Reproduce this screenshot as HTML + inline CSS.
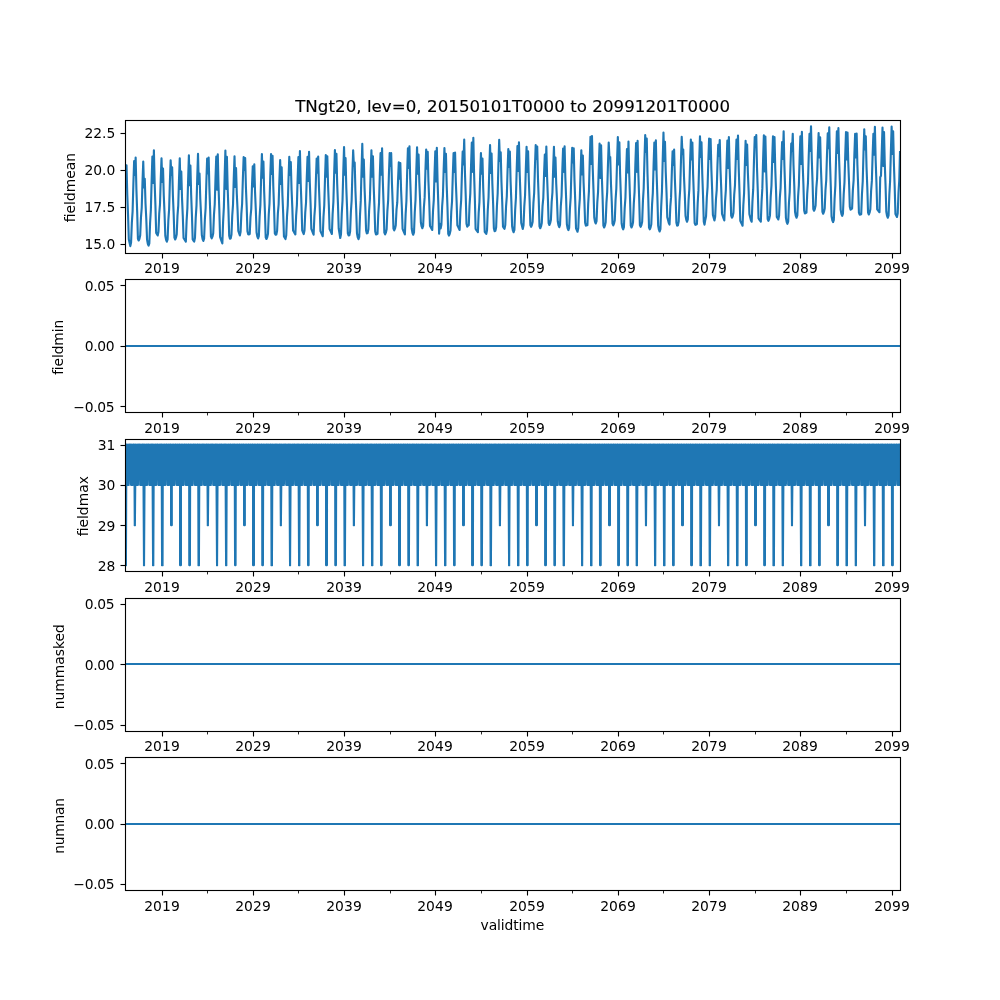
<!DOCTYPE html>
<html lang="en"><head><meta charset="utf-8"><title>TNgt20 statistics</title>
<style>html,body{margin:0;padding:0;background:#fff;width:1000px;height:1000px;overflow:hidden}svg{display:block}</style>
</head><body>
<svg width="1000" height="1000" viewBox="0 0 1000 1000">
<rect width="1000" height="1000" fill="#ffffff"/>
<defs>
<clipPath id="c0"><rect x="125.0" y="120.000" width="775.0" height="132.759"/></clipPath>
<clipPath id="c1"><rect x="125.0" y="279.310" width="775.0" height="132.759"/></clipPath>
<clipPath id="c2"><rect x="125.0" y="438.621" width="775.0" height="132.759"/></clipPath>
<clipPath id="c3"><rect x="125.0" y="597.931" width="775.0" height="132.759"/></clipPath>
<clipPath id="c4"><rect x="125.0" y="757.241" width="775.0" height="132.759"/></clipPath>
<clipPath id="c2b"><rect x="125.0" y="439" width="775.0" height="47"/></clipPath>
</defs>
<g clip-path="url(#c0)"><g clip-path="url(#c0)"><polyline points="125.00,164.58 125.76,182.34 126.52,165.32 127.28,194.89 128.04,214.65 128.80,239.32 129.56,242.72 130.32,246.13 131.08,242.43 131.84,222.94 132.61,211.37 133.37,183.96 134.13,161.03 134.89,174.94 135.65,157.47 136.41,189.56 137.17,211.64 137.93,238.73 138.69,240.50 139.45,238.73 140.21,235.32 140.97,217.40 141.73,207.73 142.49,182.38 143.25,161.62 144.01,187.52 144.77,178.79 145.53,203.81 146.30,219.34 147.06,239.62 147.82,243.76 148.58,245.54 149.34,243.32 150.10,222.74 150.86,209.86 151.62,181.02 152.38,156.59 153.14,182.93 153.90,150.22 154.66,182.92 155.42,205.38 156.18,232.96 156.94,234.21 157.70,235.47 158.46,231.77 159.22,213.90 159.99,204.32 160.75,179.04 161.51,158.36 162.27,182.04 163.03,168.57 163.79,195.86 164.55,213.37 165.31,235.77 166.07,239.91 166.83,241.69 167.59,239.47 168.35,220.43 169.11,209.41 169.87,182.59 170.63,160.29 171.39,174.94 172.15,167.39 172.91,195.72 173.68,214.26 174.44,237.69 175.20,239.47 175.96,237.69 176.72,234.29 177.48,215.91 178.24,205.70 179.00,179.75 179.76,158.36 180.52,189.00 181.28,171.53 182.04,198.53 182.80,215.84 183.56,237.99 184.32,239.22 185.08,240.45 185.84,241.69 186.60,221.18 187.37,208.36 188.13,179.60 188.89,155.25 189.65,185.30 190.41,165.47 191.17,195.04 191.93,214.80 192.69,239.47 193.45,240.50 194.21,241.54 194.97,237.84 195.73,217.81 196.49,205.58 197.25,177.45 198.01,153.77 198.77,183.97 199.53,173.61 200.29,198.91 201.05,214.55 201.82,235.03 202.58,239.17 203.34,240.95 204.10,238.73 204.86,219.48 205.62,208.20 206.38,181.11 207.14,158.51 207.90,173.46 208.66,157.47 209.42,188.88 210.18,210.26 210.94,236.66 211.70,238.43 212.46,236.66 213.22,233.25 213.98,214.69 214.74,204.26 215.51,178.07 216.27,156.44 217.03,189.74 217.79,154.22 218.55,186.85 219.31,209.37 220.07,236.95 220.83,239.12 221.59,241.29 222.35,243.46 223.11,221.63 223.87,207.20 224.63,176.70 225.39,150.52 226.15,188.85 226.91,156.88 227.67,188.20 228.43,209.47 229.20,235.77 229.96,238.73 230.72,238.28 231.48,234.58 232.24,215.73 233.00,204.93 233.76,178.34 234.52,156.29 235.28,186.93 236.04,167.98 236.80,193.92 237.56,210.02 238.32,231.03 239.08,233.25 239.84,235.47 240.60,231.77 241.36,213.63 242.12,203.72 242.89,178.08 243.65,157.03 244.41,169.91 245.17,158.07 245.93,187.48 246.69,206.81 247.45,231.18 248.21,234.14 248.97,234.44 249.73,233.84 250.49,217.15 251.25,208.99 252.01,185.26 252.77,166.21 253.53,186.48 254.29,164.28 255.05,191.98 255.81,209.77 256.58,232.51 257.34,236.66 258.10,238.43 258.86,236.21 259.62,216.57 260.38,204.82 261.14,177.21 261.90,154.07 262.66,177.75 263.42,161.62 264.18,191.79 264.94,212.04 265.70,237.25 266.46,239.02 267.22,237.25 267.98,233.84 268.74,214.68 269.50,203.52 270.26,176.54 271.03,154.07 271.79,173.90 272.55,155.85 273.31,186.80 274.07,207.65 274.83,233.55 275.59,234.73 276.35,234.44 277.11,230.74 277.87,213.41 278.63,204.48 279.39,179.92 280.15,159.99 280.91,183.82 281.67,167.39 282.43,195.33 283.19,213.47 283.95,236.51 284.72,237.77 285.48,239.02 286.24,235.32 287.00,216.44 287.76,205.60 288.52,178.98 289.28,156.88 290.04,174.94 290.80,162.06 291.56,189.85 292.32,207.65 293.08,230.44 293.84,231.77 294.60,233.10 295.36,234.44 296.12,215.76 296.88,205.18 297.64,178.83 298.41,157.03 299.17,182.93 299.93,151.11 300.69,182.68 301.45,204.00 302.21,230.44 302.97,232.29 303.73,234.14 304.49,230.44 305.25,212.54 306.01,202.92 306.77,177.60 307.53,156.88 308.29,181.01 309.05,151.85 309.81,182.68 310.57,203.26 311.33,228.96 312.10,230.88 312.86,232.81 313.62,234.73 314.38,216.29 315.14,206.01 315.90,179.98 316.66,158.51 317.42,172.72 318.18,156.59 318.94,186.51 319.70,206.32 320.46,231.18 321.22,232.86 321.98,234.53 322.74,236.21 323.50,216.78 324.26,205.29 325.02,177.95 325.79,155.11 326.55,176.71 327.31,156.29 328.07,185.59 328.83,204.74 329.59,228.96 330.35,230.64 331.11,232.31 331.87,233.99 332.63,213.99 333.39,201.80 334.15,173.71 334.91,150.07 335.67,172.72 336.43,153.77 337.19,183.79 337.95,203.60 338.71,228.52 339.47,233.25 340.24,237.99 341.00,234.29 341.76,213.60 342.52,200.56 343.28,171.56 344.04,146.97 344.80,174.79 345.56,158.07 346.32,188.20 347.08,208.29 347.84,233.40 348.60,235.47 349.36,235.18 350.12,231.48 350.88,212.02 351.64,200.48 352.40,173.11 353.16,150.22 353.93,165.91 354.69,162.51 355.45,191.06 356.21,209.67 356.97,233.25 357.73,237.40 358.49,239.17 359.25,236.95 360.01,215.09 360.77,200.63 361.53,170.08 362.29,143.86 363.05,176.71 363.81,159.55 364.57,188.20 365.33,206.81 366.09,230.44 366.85,233.40 367.62,232.96 368.38,229.26 369.14,210.25 369.90,199.27 370.66,172.48 371.42,150.22 372.18,176.71 372.94,156.29 373.70,186.41 374.46,206.41 375.22,231.48 375.98,234.44 376.74,234.14 377.50,233.84 378.26,214.50 379.02,203.12 379.78,175.90 380.54,153.18 381.31,174.79 382.07,148.30 382.83,181.57 383.59,204.54 384.35,232.66 385.11,234.44 385.87,232.66 386.63,229.26 387.39,210.82 388.15,200.53 388.91,174.50 389.67,153.03 390.43,165.91 391.19,153.18 391.95,183.46 392.71,203.50 393.47,228.66 394.23,230.44 395.00,228.66 395.76,225.26 396.52,209.50 397.28,202.47 398.04,179.97 398.80,162.21 399.56,178.79 400.32,163.10 401.08,190.05 401.84,207.01 402.60,228.96 403.36,230.79 404.12,232.61 404.88,234.44 405.64,213.98 406.40,201.24 407.16,172.56 407.92,148.30 408.68,167.98 409.45,146.23 410.21,178.95 410.97,201.28 411.73,228.81 412.49,232.96 413.25,234.73 414.01,232.51 414.77,212.24 415.53,199.72 416.29,171.27 417.05,147.26 417.81,173.75 418.57,154.51 419.33,182.24 420.09,199.70 420.85,222.30 421.61,226.44 422.37,228.22 423.14,226.00 423.90,207.50 424.66,197.14 425.42,171.04 426.18,149.48 426.94,168.72 427.70,151.85 428.46,181.71 429.22,201.28 429.98,226.00 430.74,227.33 431.50,228.66 432.26,230.00 433.02,211.05 433.78,200.14 434.54,173.44 435.30,151.26 436.06,181.45 436.83,147.85 437.59,181.61 438.35,205.08 439.11,233.70 439.87,223.78 440.63,228.52 441.39,224.82 442.15,206.26 442.91,195.83 443.67,169.64 444.43,148.00 445.19,171.98 445.95,153.77 446.71,185.54 447.47,207.15 448.23,233.84 448.99,235.62 449.75,233.84 450.52,230.44 451.28,211.79 452.04,201.25 452.80,174.94 453.56,153.18 454.32,171.83 455.08,152.59 455.84,181.95 456.60,201.04 457.36,225.26 458.12,226.84 458.88,228.42 459.64,230.00 460.40,211.11 461.16,200.27 461.92,173.65 462.68,151.55 463.44,164.43 464.21,139.57 464.97,172.94 465.73,195.71 466.49,223.78 467.25,226.74 468.01,225.56 468.77,225.26 469.53,205.50 470.29,193.60 471.05,165.83 471.81,142.53 472.57,171.83 473.33,137.79 474.09,173.47 474.85,198.57 475.61,228.96 476.37,230.05 477.13,231.13 477.89,232.22 478.66,213.18 479.42,202.16 480.18,175.34 480.94,153.03 481.70,173.75 482.46,158.51 483.22,188.01 483.98,207.45 484.74,231.92 485.50,232.96 486.26,233.99 487.02,230.29 487.78,210.02 488.54,197.50 489.30,169.05 490.06,145.04 490.82,173.01 491.58,153.48 492.35,183.50 493.11,203.31 493.87,228.22 494.63,231.18 495.39,230.88 496.15,227.18 496.91,206.49 497.67,193.46 498.43,164.46 499.19,139.86 499.95,161.03 500.71,152.29 501.47,182.24 502.23,201.92 502.99,226.74 503.75,227.78 504.51,228.81 505.27,225.11 506.04,206.70 506.80,196.46 507.56,170.47 508.32,149.04 509.08,166.95 509.84,151.55 510.60,181.61 511.36,201.38 512.12,226.30 512.88,230.44 513.64,232.22 514.40,230.00 515.16,210.00 515.92,197.80 516.68,169.72 517.44,146.08 518.20,170.94 518.96,142.23 519.73,174.44 520.49,196.10 521.25,223.04 522.01,226.00 522.77,228.96 523.53,225.26 524.29,206.37 525.05,195.54 525.81,168.91 526.57,146.82 527.33,171.98 528.09,151.26 528.85,181.03 529.61,200.49 530.37,225.11 531.13,226.89 531.89,225.11 532.65,221.71 533.42,203.18 534.18,192.78 534.94,166.64 535.70,145.04 536.46,158.95 537.22,146.52 537.98,178.37 538.74,199.80 539.50,226.44 540.26,228.22 541.02,226.44 541.78,223.04 542.54,206.16 543.30,197.78 544.06,173.82 544.82,154.51 545.58,175.97 546.34,146.52 547.11,177.30 547.87,197.63 548.63,223.19 549.39,224.96 550.15,223.19 550.91,219.78 551.67,202.01 552.43,192.53 553.19,167.37 553.95,146.82 554.71,176.71 555.47,157.47 556.23,183.84 556.99,200.00 557.75,221.26 558.51,225.41 559.27,227.18 560.03,224.96 560.79,206.50 561.56,196.17 562.32,170.11 563.08,148.59 563.84,171.83 564.60,146.23 565.36,177.45 566.12,198.22 566.88,224.22 567.64,228.37 568.40,230.14 569.16,227.92 569.92,208.70 570.68,197.47 571.44,170.41 572.20,147.85 572.96,162.51 573.72,148.30 574.48,180.11 575.25,201.58 576.01,228.22 576.77,230.00 577.53,231.77 578.29,228.07 579.05,209.30 579.81,198.61 580.57,172.15 581.33,150.22 582.09,174.49 582.85,155.55 583.61,183.07 584.37,200.35 585.13,222.74 585.89,225.70 586.65,225.26 587.41,225.26 588.17,204.36 588.94,191.07 589.70,161.79 590.46,136.90 591.22,163.99 591.98,136.01 592.74,168.58 593.50,190.38 594.26,217.56 595.02,221.71 595.78,223.48 596.54,221.26 597.30,202.53 598.06,191.87 598.82,165.45 599.58,143.56 600.34,177.90 601.10,145.19 601.86,177.25 602.63,198.87 603.39,225.70 604.15,227.48 604.91,225.70 605.67,222.30 606.43,203.14 607.19,191.98 607.95,165.00 608.71,142.53 609.47,157.92 610.23,157.03 610.99,184.33 611.75,201.43 612.51,223.63 613.27,225.41 614.03,223.63 614.79,220.23 615.55,200.38 616.32,188.37 617.08,160.48 617.84,137.05 618.60,164.43 619.36,142.23 620.12,174.59 620.88,196.40 621.64,223.48 622.40,227.63 623.16,229.40 623.92,227.18 624.68,208.36 625.44,197.59 626.20,171.05 626.96,149.04 627.72,172.42 628.48,141.49 629.24,174.83 630.00,197.63 630.77,225.70 631.53,227.48 632.29,225.70 633.05,222.30 633.81,203.23 634.57,192.18 635.33,165.32 636.09,142.97 636.85,171.83 637.61,140.90 638.37,174.25 639.13,197.04 639.89,225.11 640.65,226.89 641.41,225.11 642.17,221.71 642.93,201.14 643.69,188.25 644.46,159.41 645.22,134.98 645.98,152.00 646.74,138.53 647.50,173.52 648.26,197.93 649.02,227.63 649.78,229.40 650.54,227.63 651.30,224.22 652.06,204.67 652.82,193.03 653.58,165.54 654.34,142.53 655.10,169.46 655.86,140.31 656.62,174.01 657.38,197.14 658.15,225.56 658.91,229.70 659.67,231.48 660.43,229.26 661.19,206.67 661.95,191.33 662.71,159.83 663.47,132.61 664.23,161.03 664.99,141.79 665.75,172.21 666.51,192.01 667.27,217.12 668.03,220.08 668.79,223.04 669.55,224.52 670.31,206.68 671.07,197.13 671.84,171.89 672.60,151.26 673.36,165.02 674.12,149.48 674.88,179.09 675.64,198.32 676.40,222.74 677.16,225.70 677.92,225.26 678.68,221.56 679.44,201.41 680.20,189.03 680.96,160.75 681.72,136.90 682.48,153.92 683.24,149.48 684.00,176.82 684.76,193.69 685.53,215.79 686.29,219.93 687.05,221.71 687.81,219.49 688.57,200.30 689.33,189.10 690.09,162.08 690.85,139.57 691.61,159.40 692.37,142.53 693.13,174.64 693.89,196.20 694.65,223.04 695.41,224.82 696.17,224.52 696.93,224.08 697.69,203.29 698.45,190.15 699.21,161.03 699.98,136.31 700.74,156.88 701.50,142.23 702.26,174.01 703.02,195.22 703.78,221.71 704.54,224.67 705.30,219.93 706.06,216.23 706.82,197.49 707.58,186.84 708.34,160.42 709.10,138.53 709.86,158.95 710.62,138.97 711.38,169.64 712.14,189.59 712.90,214.90 713.67,217.71 714.43,220.52 715.19,216.82 715.95,199.26 716.71,190.03 717.47,165.15 718.23,144.89 718.99,155.99 719.75,140.01 720.51,170.03 721.27,189.34 722.03,214.01 722.79,216.18 723.55,218.35 724.31,220.52 725.07,201.33 725.83,190.13 726.59,163.11 727.36,140.60 728.12,167.98 728.88,137.05 729.64,168.63 730.40,189.44 731.16,215.64 731.92,217.71 732.68,216.38 733.44,212.68 734.20,194.87 734.96,185.36 735.72,160.16 736.48,139.57 737.24,158.95 738.00,135.57 738.76,169.35 739.52,192.40 740.28,220.82 741.05,222.45 741.81,224.08 742.57,225.70 743.33,205.52 744.09,193.11 744.85,164.79 745.61,140.90 746.37,165.02 747.13,144.60 747.89,173.13 748.65,191.07 749.41,214.31 750.17,217.27 750.93,220.23 751.69,221.71 752.45,201.56 753.21,189.18 753.97,160.90 754.74,137.05 755.50,146.97 756.26,134.98 757.02,168.19 757.78,190.63 758.54,218.45 759.30,219.54 760.06,220.62 760.82,221.71 761.58,201.20 762.34,188.38 763.10,159.62 763.86,135.27 764.62,171.53 765.38,136.61 766.14,169.45 766.90,191.56 767.66,219.04 768.42,220.82 769.19,219.04 769.95,215.64 770.71,196.57 771.47,185.52 772.23,158.66 772.99,136.31 773.75,161.91 774.51,137.05 775.27,169.06 776.03,190.33 776.79,216.97 777.55,218.23 778.31,219.49 779.07,215.79 779.83,197.86 780.59,188.20 781.35,162.84 782.11,142.08 782.88,158.95 783.64,131.28 784.40,165.57 785.16,189.00 785.92,217.86 786.68,222.00 787.44,223.78 788.20,221.56 788.96,202.76 789.72,192.04 790.48,165.53 791.24,143.56 792.00,150.96 792.76,133.79 793.52,165.23 794.28,185.79 795.04,211.79 795.80,215.94 796.57,217.71 797.33,215.49 798.09,196.45 798.85,185.43 799.61,158.61 800.37,136.31 801.13,163.84 801.89,131.87 802.65,163.54 803.41,184.26 804.17,210.46 804.93,213.42 805.69,213.12 806.45,212.68 807.21,193.70 807.97,182.76 808.73,156.01 809.49,133.79 810.26,150.96 811.02,126.25 811.78,159.37 812.54,181.40 813.30,208.98 814.06,210.76 814.82,208.98 815.58,205.58 816.34,187.89 817.10,178.52 817.86,153.48 818.62,133.05 819.38,157.47 820.14,137.20 820.90,167.51 821.66,187.03 822.42,211.94 823.18,213.72 823.95,211.94 824.71,208.54 825.47,190.28 826.23,180.21 826.99,154.42 827.75,133.20 828.51,148.15 829.27,127.28 830.03,162.42 830.79,186.58 831.55,216.23 832.31,220.38 833.07,222.15 833.83,219.93 834.59,198.97 835.35,185.61 836.11,156.25 836.87,131.28 837.63,153.03 838.40,128.17 839.16,160.92 839.92,182.63 840.68,209.87 841.44,214.01 842.20,215.79 842.96,213.57 843.72,194.05 844.48,182.44 845.24,154.99 846.00,132.02 846.76,159.40 847.52,132.61 848.28,162.81 849.04,182.04 849.80,206.76 850.56,209.72 851.32,208.98 852.09,208.54 852.85,190.40 853.61,180.48 854.37,154.85 855.13,133.79 855.89,157.47 856.65,133.50 857.41,165.33 858.17,186.29 858.93,212.68 859.69,214.75 860.45,214.46 861.21,214.16 861.97,193.95 862.73,181.50 863.49,153.14 864.25,129.21 865.01,149.48 865.78,136.31 866.54,167.17 867.30,187.22 868.06,212.68 868.82,214.46 869.58,212.68 870.34,209.28 871.10,190.99 871.86,180.89 872.62,155.06 873.38,133.79 874.14,154.81 874.90,126.84 875.66,159.90 876.42,181.89 877.18,209.42 877.94,210.36 878.70,211.30 879.47,212.24 880.23,177.16 880.99,175.68 881.75,151.42 882.51,127.58 883.27,165.91 884.03,132.02 884.79,164.07 885.55,185.20 886.31,211.79 887.07,215.94 887.83,217.71 888.59,215.49 889.35,194.47 890.11,181.03 890.87,151.60 891.63,126.54 892.39,153.92 893.16,131.28 893.92,164.31 894.68,186.43 895.44,214.01 896.20,215.49 896.96,216.97 897.72,213.27 898.48,192.99 899.24,180.46 900.00,152.00" fill="none" stroke="#1f77b4" stroke-width="2.12" stroke-linejoin="round" stroke-linecap="square"/></g></g>
<path d="M125.5 120.5V253.5M900.5 120.5V253.5M162.5 253.5v5M253.5 253.5v5M344.5 253.5v5M435.5 253.5v5M527.5 253.5v5M618.5 253.5v5M709.5 253.5v5M800.5 253.5v5M892.5 253.5v5" stroke="#000" stroke-width="1.111" fill="none"/>
<path d="M207.5 253.5v2.95M298.5 253.5v2.95M390.5 253.5v2.95M481.5 253.5v2.95M572.5 253.5v2.95M663.5 253.5v2.95M755.5 253.5v2.95M846.5 253.5v2.95" stroke="#000" stroke-width="0.85" fill="none"/>
<g fill="#000"><rect x="124.945" y="119.945" width="776.111" height="1.111"/><rect x="124.945" y="252.945" width="776.111" height="1.111"/><rect x="120.500" y="243.945" width="5" height="1.111"/><rect x="120.500" y="206.945" width="5" height="1.111"/><rect x="120.500" y="169.945" width="5" height="1.111"/><rect x="120.500" y="132.945" width="5" height="1.111"/></g>
<g font-family="'DejaVu Sans', 'Liberation Sans', sans-serif" font-size="13.889px" fill="#000">
<text x="162.00" y="272.50" text-anchor="middle" letter-spacing="0.08">2019</text>
<text x="253.00" y="272.50" text-anchor="middle" letter-spacing="0.08">2029</text>
<text x="344.00" y="272.50" text-anchor="middle" letter-spacing="0.08">2039</text>
<text x="435.00" y="272.50" text-anchor="middle" letter-spacing="0.08">2049</text>
<text x="527.00" y="272.50" text-anchor="middle" letter-spacing="0.08">2059</text>
<text x="618.00" y="272.50" text-anchor="middle" letter-spacing="0.08">2069</text>
<text x="709.00" y="272.50" text-anchor="middle" letter-spacing="0.08">2079</text>
<text x="800.00" y="272.50" text-anchor="middle" letter-spacing="0.08">2089</text>
<text x="892.00" y="272.50" text-anchor="middle" letter-spacing="0.08">2099</text>
<text x="115.30" y="248.80" text-anchor="end" letter-spacing="0">15.0</text>
<text x="115.30" y="211.80" text-anchor="end" letter-spacing="0">17.5</text>
<text x="115.30" y="174.80" text-anchor="end" letter-spacing="0">20.0</text>
<text x="115.30" y="137.80" text-anchor="end" letter-spacing="0">22.5</text>
<text transform="translate(74.5,187.58) rotate(-90)" text-anchor="middle" letter-spacing="0">fieldmean</text>
</g>
<rect x="125.0" y="345" width="775.0" height="2" fill="#1f77b4"/>
<path d="M125.5 279.5V412.5M900.5 279.5V412.5M162.5 412.5v5M253.5 412.5v5M344.5 412.5v5M435.5 412.5v5M527.5 412.5v5M618.5 412.5v5M709.5 412.5v5M800.5 412.5v5M892.5 412.5v5" stroke="#000" stroke-width="1.111" fill="none"/>
<path d="M207.5 412.5v2.95M298.5 412.5v2.95M390.5 412.5v2.95M481.5 412.5v2.95M572.5 412.5v2.95M663.5 412.5v2.95M755.5 412.5v2.95M846.5 412.5v2.95" stroke="#000" stroke-width="0.85" fill="none"/>
<g fill="#000"><rect x="124.945" y="278.945" width="776.111" height="1.111"/><rect x="124.945" y="411.945" width="776.111" height="1.111"/><rect x="120.500" y="405.945" width="5" height="1.111"/><rect x="120.500" y="345.945" width="5" height="1.111"/><rect x="120.500" y="284.945" width="5" height="1.111"/></g>
<g font-family="'DejaVu Sans', 'Liberation Sans', sans-serif" font-size="13.889px" fill="#000">
<text x="162.00" y="432.50" text-anchor="middle" letter-spacing="0.08">2019</text>
<text x="253.00" y="432.50" text-anchor="middle" letter-spacing="0.08">2029</text>
<text x="344.00" y="432.50" text-anchor="middle" letter-spacing="0.08">2039</text>
<text x="435.00" y="432.50" text-anchor="middle" letter-spacing="0.08">2049</text>
<text x="527.00" y="432.50" text-anchor="middle" letter-spacing="0.08">2059</text>
<text x="618.00" y="432.50" text-anchor="middle" letter-spacing="0.08">2069</text>
<text x="709.00" y="432.50" text-anchor="middle" letter-spacing="0.08">2079</text>
<text x="800.00" y="432.50" text-anchor="middle" letter-spacing="0.08">2089</text>
<text x="892.00" y="432.50" text-anchor="middle" letter-spacing="0.08">2099</text>
<text x="114.40" y="411.80" text-anchor="end" letter-spacing="-0.3">−0.05</text>
<text x="114.40" y="350.80" text-anchor="end" letter-spacing="-0.3">0.00</text>
<text x="114.40" y="290.80" text-anchor="end" letter-spacing="-0.3">0.05</text>
<text transform="translate(62.7,347.39) rotate(-90)" text-anchor="middle" letter-spacing="-0.14">fieldmin</text>
</g>
<g clip-path="url(#c2)"><g clip-path="url(#c2b)"><polyline points="125.00,444.66 125.76,565.34 126.52,444.66 127.28,484.89 128.04,444.66 128.80,484.89 129.56,444.66 130.32,444.66 131.08,484.89 131.84,444.66 132.61,484.89 133.37,444.66 134.13,444.66 134.89,525.11 135.65,444.66 136.41,484.89 137.17,444.66 137.93,484.89 138.69,444.66 139.45,444.66 140.21,484.89 140.97,444.66 141.73,484.89 142.49,444.66 143.25,444.66 144.01,565.34 144.77,444.66 145.53,484.89 146.30,444.66 147.06,484.89 147.82,444.66 148.58,444.66 149.34,484.89 150.10,444.66 150.86,484.89 151.62,444.66 152.38,444.66 153.14,565.34 153.90,444.66 154.66,484.89 155.42,444.66 156.18,484.89 156.94,444.66 157.70,444.66 158.46,484.89 159.22,444.66 159.99,484.89 160.75,444.66 161.51,444.66 162.27,565.34 163.03,444.66 163.79,484.89 164.55,444.66 165.31,484.89 166.07,444.66 166.83,444.66 167.59,484.89 168.35,444.66 169.11,484.89 169.87,444.66 170.63,444.66 171.39,525.11 172.15,444.66 172.91,484.89 173.68,444.66 174.44,484.89 175.20,444.66 175.96,444.66 176.72,484.89 177.48,444.66 178.24,484.89 179.00,444.66 179.76,444.66 180.52,565.34 181.28,444.66 182.04,484.89 182.80,444.66 183.56,484.89 184.32,444.66 185.08,444.66 185.84,484.89 186.60,444.66 187.37,484.89 188.13,444.66 188.89,444.66 189.65,565.34 190.41,444.66 191.17,484.89 191.93,444.66 192.69,484.89 193.45,444.66 194.21,444.66 194.97,484.89 195.73,444.66 196.49,484.89 197.25,444.66 198.01,444.66 198.77,565.34 199.53,444.66 200.29,484.89 201.05,444.66 201.82,484.89 202.58,444.66 203.34,444.66 204.10,484.89 204.86,444.66 205.62,484.89 206.38,444.66 207.14,444.66 207.90,525.11 208.66,444.66 209.42,484.89 210.18,444.66 210.94,484.89 211.70,444.66 212.46,444.66 213.22,484.89 213.98,444.66 214.74,484.89 215.51,444.66 216.27,444.66 217.03,565.34 217.79,444.66 218.55,484.89 219.31,444.66 220.07,484.89 220.83,444.66 221.59,444.66 222.35,484.89 223.11,444.66 223.87,484.89 224.63,444.66 225.39,444.66 226.15,565.34 226.91,444.66 227.67,484.89 228.43,444.66 229.20,484.89 229.96,444.66 230.72,444.66 231.48,484.89 232.24,444.66 233.00,484.89 233.76,444.66 234.52,444.66 235.28,565.34 236.04,444.66 236.80,484.89 237.56,444.66 238.32,484.89 239.08,444.66 239.84,444.66 240.60,484.89 241.36,444.66 242.12,484.89 242.89,444.66 243.65,444.66 244.41,525.11 245.17,444.66 245.93,484.89 246.69,444.66 247.45,484.89 248.21,444.66 248.97,444.66 249.73,484.89 250.49,444.66 251.25,484.89 252.01,444.66 252.77,444.66 253.53,565.34 254.29,444.66 255.05,484.89 255.81,444.66 256.58,484.89 257.34,444.66 258.10,444.66 258.86,484.89 259.62,444.66 260.38,484.89 261.14,444.66 261.90,444.66 262.66,565.34 263.42,444.66 264.18,484.89 264.94,444.66 265.70,484.89 266.46,444.66 267.22,444.66 267.98,484.89 268.74,444.66 269.50,484.89 270.26,444.66 271.03,444.66 271.79,565.34 272.55,444.66 273.31,484.89 274.07,444.66 274.83,484.89 275.59,444.66 276.35,444.66 277.11,484.89 277.87,444.66 278.63,484.89 279.39,444.66 280.15,444.66 280.91,525.11 281.67,444.66 282.43,484.89 283.19,444.66 283.95,484.89 284.72,444.66 285.48,444.66 286.24,484.89 287.00,444.66 287.76,484.89 288.52,444.66 289.28,444.66 290.04,565.34 290.80,444.66 291.56,484.89 292.32,444.66 293.08,484.89 293.84,444.66 294.60,444.66 295.36,484.89 296.12,444.66 296.88,484.89 297.64,444.66 298.41,444.66 299.17,565.34 299.93,444.66 300.69,484.89 301.45,444.66 302.21,484.89 302.97,444.66 303.73,444.66 304.49,484.89 305.25,444.66 306.01,484.89 306.77,444.66 307.53,444.66 308.29,565.34 309.05,444.66 309.81,484.89 310.57,444.66 311.33,484.89 312.10,444.66 312.86,444.66 313.62,484.89 314.38,444.66 315.14,484.89 315.90,444.66 316.66,444.66 317.42,525.11 318.18,444.66 318.94,484.89 319.70,444.66 320.46,484.89 321.22,444.66 321.98,444.66 322.74,484.89 323.50,444.66 324.26,484.89 325.02,444.66 325.79,444.66 326.55,565.34 327.31,444.66 328.07,484.89 328.83,444.66 329.59,484.89 330.35,444.66 331.11,444.66 331.87,484.89 332.63,444.66 333.39,484.89 334.15,444.66 334.91,444.66 335.67,565.34 336.43,444.66 337.19,484.89 337.95,444.66 338.71,484.89 339.47,444.66 340.24,444.66 341.00,484.89 341.76,444.66 342.52,484.89 343.28,444.66 344.04,444.66 344.80,565.34 345.56,444.66 346.32,484.89 347.08,444.66 347.84,484.89 348.60,444.66 349.36,444.66 350.12,484.89 350.88,444.66 351.64,484.89 352.40,444.66 353.16,444.66 353.93,525.11 354.69,444.66 355.45,484.89 356.21,444.66 356.97,484.89 357.73,444.66 358.49,444.66 359.25,484.89 360.01,444.66 360.77,484.89 361.53,444.66 362.29,444.66 363.05,565.34 363.81,444.66 364.57,484.89 365.33,444.66 366.09,484.89 366.85,444.66 367.62,444.66 368.38,484.89 369.14,444.66 369.90,484.89 370.66,444.66 371.42,444.66 372.18,565.34 372.94,444.66 373.70,484.89 374.46,444.66 375.22,484.89 375.98,444.66 376.74,444.66 377.50,484.89 378.26,444.66 379.02,484.89 379.78,444.66 380.54,444.66 381.31,565.34 382.07,444.66 382.83,484.89 383.59,444.66 384.35,484.89 385.11,444.66 385.87,444.66 386.63,484.89 387.39,444.66 388.15,484.89 388.91,444.66 389.67,444.66 390.43,525.11 391.19,444.66 391.95,484.89 392.71,444.66 393.47,484.89 394.23,444.66 395.00,444.66 395.76,484.89 396.52,444.66 397.28,484.89 398.04,444.66 398.80,444.66 399.56,565.34 400.32,444.66 401.08,484.89 401.84,444.66 402.60,484.89 403.36,444.66 404.12,444.66 404.88,484.89 405.64,444.66 406.40,484.89 407.16,444.66 407.92,444.66 408.68,565.34 409.45,444.66 410.21,484.89 410.97,444.66 411.73,484.89 412.49,444.66 413.25,444.66 414.01,484.89 414.77,444.66 415.53,484.89 416.29,444.66 417.05,444.66 417.81,565.34 418.57,444.66 419.33,484.89 420.09,444.66 420.85,484.89 421.61,444.66 422.37,444.66 423.14,484.89 423.90,444.66 424.66,484.89 425.42,444.66 426.18,444.66 426.94,525.11 427.70,444.66 428.46,484.89 429.22,444.66 429.98,484.89 430.74,444.66 431.50,444.66 432.26,484.89 433.02,444.66 433.78,484.89 434.54,444.66 435.30,444.66 436.06,565.34 436.83,444.66 437.59,484.89 438.35,444.66 439.11,484.89 439.87,444.66 440.63,444.66 441.39,484.89 442.15,444.66 442.91,484.89 443.67,444.66 444.43,444.66 445.19,565.34 445.95,444.66 446.71,484.89 447.47,444.66 448.23,484.89 448.99,444.66 449.75,444.66 450.52,484.89 451.28,444.66 452.04,484.89 452.80,444.66 453.56,444.66 454.32,565.34 455.08,444.66 455.84,484.89 456.60,444.66 457.36,484.89 458.12,444.66 458.88,444.66 459.64,484.89 460.40,444.66 461.16,484.89 461.92,444.66 462.68,444.66 463.44,525.11 464.21,444.66 464.97,484.89 465.73,444.66 466.49,484.89 467.25,444.66 468.01,444.66 468.77,484.89 469.53,444.66 470.29,484.89 471.05,444.66 471.81,444.66 472.57,565.34 473.33,444.66 474.09,484.89 474.85,444.66 475.61,484.89 476.37,444.66 477.13,444.66 477.89,484.89 478.66,444.66 479.42,484.89 480.18,444.66 480.94,444.66 481.70,565.34 482.46,444.66 483.22,484.89 483.98,444.66 484.74,484.89 485.50,444.66 486.26,444.66 487.02,484.89 487.78,444.66 488.54,484.89 489.30,444.66 490.06,444.66 490.82,565.34 491.58,444.66 492.35,484.89 493.11,444.66 493.87,484.89 494.63,444.66 495.39,444.66 496.15,484.89 496.91,444.66 497.67,484.89 498.43,444.66 499.19,444.66 499.95,525.11 500.71,444.66 501.47,484.89 502.23,444.66 502.99,484.89 503.75,444.66 504.51,444.66 505.27,484.89 506.04,444.66 506.80,484.89 507.56,444.66 508.32,444.66 509.08,565.34 509.84,444.66 510.60,484.89 511.36,444.66 512.12,484.89 512.88,444.66 513.64,444.66 514.40,484.89 515.16,444.66 515.92,484.89 516.68,444.66 517.44,444.66 518.20,565.34 518.96,444.66 519.73,484.89 520.49,444.66 521.25,484.89 522.01,444.66 522.77,444.66 523.53,484.89 524.29,444.66 525.05,484.89 525.81,444.66 526.57,444.66 527.33,565.34 528.09,444.66 528.85,484.89 529.61,444.66 530.37,484.89 531.13,444.66 531.89,444.66 532.65,484.89 533.42,444.66 534.18,484.89 534.94,444.66 535.70,444.66 536.46,525.11 537.22,444.66 537.98,484.89 538.74,444.66 539.50,484.89 540.26,444.66 541.02,444.66 541.78,484.89 542.54,444.66 543.30,484.89 544.06,444.66 544.82,444.66 545.58,565.34 546.34,444.66 547.11,484.89 547.87,444.66 548.63,484.89 549.39,444.66 550.15,444.66 550.91,484.89 551.67,444.66 552.43,484.89 553.19,444.66 553.95,444.66 554.71,565.34 555.47,444.66 556.23,484.89 556.99,444.66 557.75,484.89 558.51,444.66 559.27,444.66 560.03,484.89 560.79,444.66 561.56,484.89 562.32,444.66 563.08,444.66 563.84,565.34 564.60,444.66 565.36,484.89 566.12,444.66 566.88,484.89 567.64,444.66 568.40,444.66 569.16,484.89 569.92,444.66 570.68,484.89 571.44,444.66 572.20,444.66 572.96,525.11 573.72,444.66 574.48,484.89 575.25,444.66 576.01,484.89 576.77,444.66 577.53,444.66 578.29,484.89 579.05,444.66 579.81,484.89 580.57,444.66 581.33,444.66 582.09,565.34 582.85,444.66 583.61,484.89 584.37,444.66 585.13,484.89 585.89,444.66 586.65,444.66 587.41,484.89 588.17,444.66 588.94,484.89 589.70,444.66 590.46,444.66 591.22,565.34 591.98,444.66 592.74,484.89 593.50,444.66 594.26,484.89 595.02,444.66 595.78,444.66 596.54,484.89 597.30,444.66 598.06,484.89 598.82,444.66 599.58,444.66 600.34,565.34 601.10,444.66 601.86,484.89 602.63,444.66 603.39,484.89 604.15,444.66 604.91,444.66 605.67,484.89 606.43,444.66 607.19,484.89 607.95,444.66 608.71,444.66 609.47,525.11 610.23,444.66 610.99,484.89 611.75,444.66 612.51,484.89 613.27,444.66 614.03,444.66 614.79,484.89 615.55,444.66 616.32,484.89 617.08,444.66 617.84,444.66 618.60,565.34 619.36,444.66 620.12,484.89 620.88,444.66 621.64,484.89 622.40,444.66 623.16,444.66 623.92,484.89 624.68,444.66 625.44,484.89 626.20,444.66 626.96,444.66 627.72,565.34 628.48,444.66 629.24,484.89 630.00,444.66 630.77,484.89 631.53,444.66 632.29,444.66 633.05,484.89 633.81,444.66 634.57,484.89 635.33,444.66 636.09,444.66 636.85,565.34 637.61,444.66 638.37,484.89 639.13,444.66 639.89,484.89 640.65,444.66 641.41,444.66 642.17,484.89 642.93,444.66 643.69,484.89 644.46,444.66 645.22,444.66 645.98,525.11 646.74,444.66 647.50,484.89 648.26,444.66 649.02,484.89 649.78,444.66 650.54,444.66 651.30,484.89 652.06,444.66 652.82,484.89 653.58,444.66 654.34,444.66 655.10,565.34 655.86,444.66 656.62,484.89 657.38,444.66 658.15,484.89 658.91,444.66 659.67,444.66 660.43,484.89 661.19,444.66 661.95,484.89 662.71,444.66 663.47,444.66 664.23,565.34 664.99,444.66 665.75,484.89 666.51,444.66 667.27,484.89 668.03,444.66 668.79,444.66 669.55,484.89 670.31,444.66 671.07,484.89 671.84,444.66 672.60,444.66 673.36,565.34 674.12,444.66 674.88,484.89 675.64,444.66 676.40,484.89 677.16,444.66 677.92,444.66 678.68,484.89 679.44,444.66 680.20,484.89 680.96,444.66 681.72,444.66 682.48,525.11 683.24,444.66 684.00,484.89 684.76,444.66 685.53,484.89 686.29,444.66 687.05,444.66 687.81,484.89 688.57,444.66 689.33,484.89 690.09,444.66 690.85,444.66 691.61,565.34 692.37,444.66 693.13,484.89 693.89,444.66 694.65,484.89 695.41,444.66 696.17,444.66 696.93,484.89 697.69,444.66 698.45,484.89 699.21,444.66 699.98,444.66 700.74,565.34 701.50,444.66 702.26,484.89 703.02,444.66 703.78,484.89 704.54,444.66 705.30,444.66 706.06,484.89 706.82,444.66 707.58,484.89 708.34,444.66 709.10,444.66 709.86,565.34 710.62,444.66 711.38,484.89 712.14,444.66 712.90,484.89 713.67,444.66 714.43,444.66 715.19,484.89 715.95,444.66 716.71,484.89 717.47,444.66 718.23,444.66 718.99,525.11 719.75,444.66 720.51,484.89 721.27,444.66 722.03,484.89 722.79,444.66 723.55,444.66 724.31,484.89 725.07,444.66 725.83,484.89 726.59,444.66 727.36,444.66 728.12,565.34 728.88,444.66 729.64,484.89 730.40,444.66 731.16,484.89 731.92,444.66 732.68,444.66 733.44,484.89 734.20,444.66 734.96,484.89 735.72,444.66 736.48,444.66 737.24,565.34 738.00,444.66 738.76,484.89 739.52,444.66 740.28,484.89 741.05,444.66 741.81,444.66 742.57,484.89 743.33,444.66 744.09,484.89 744.85,444.66 745.61,444.66 746.37,565.34 747.13,444.66 747.89,484.89 748.65,444.66 749.41,484.89 750.17,444.66 750.93,444.66 751.69,484.89 752.45,444.66 753.21,484.89 753.97,444.66 754.74,444.66 755.50,525.11 756.26,444.66 757.02,484.89 757.78,444.66 758.54,484.89 759.30,444.66 760.06,444.66 760.82,484.89 761.58,444.66 762.34,484.89 763.10,444.66 763.86,444.66 764.62,565.34 765.38,444.66 766.14,484.89 766.90,444.66 767.66,484.89 768.42,444.66 769.19,444.66 769.95,484.89 770.71,444.66 771.47,484.89 772.23,444.66 772.99,444.66 773.75,565.34 774.51,444.66 775.27,484.89 776.03,444.66 776.79,484.89 777.55,444.66 778.31,444.66 779.07,484.89 779.83,444.66 780.59,484.89 781.35,444.66 782.11,444.66 782.88,565.34 783.64,444.66 784.40,484.89 785.16,444.66 785.92,484.89 786.68,444.66 787.44,444.66 788.20,484.89 788.96,444.66 789.72,484.89 790.48,444.66 791.24,444.66 792.00,525.11 792.76,444.66 793.52,484.89 794.28,444.66 795.04,484.89 795.80,444.66 796.57,444.66 797.33,484.89 798.09,444.66 798.85,484.89 799.61,444.66 800.37,444.66 801.13,565.34 801.89,444.66 802.65,484.89 803.41,444.66 804.17,484.89 804.93,444.66 805.69,444.66 806.45,484.89 807.21,444.66 807.97,484.89 808.73,444.66 809.49,444.66 810.26,565.34 811.02,444.66 811.78,484.89 812.54,444.66 813.30,484.89 814.06,444.66 814.82,444.66 815.58,484.89 816.34,444.66 817.10,484.89 817.86,444.66 818.62,444.66 819.38,565.34 820.14,444.66 820.90,484.89 821.66,444.66 822.42,484.89 823.18,444.66 823.95,444.66 824.71,484.89 825.47,444.66 826.23,484.89 826.99,444.66 827.75,444.66 828.51,525.11 829.27,444.66 830.03,484.89 830.79,444.66 831.55,484.89 832.31,444.66 833.07,444.66 833.83,484.89 834.59,444.66 835.35,484.89 836.11,444.66 836.87,444.66 837.63,565.34 838.40,444.66 839.16,484.89 839.92,444.66 840.68,484.89 841.44,444.66 842.20,444.66 842.96,484.89 843.72,444.66 844.48,484.89 845.24,444.66 846.00,444.66 846.76,565.34 847.52,444.66 848.28,484.89 849.04,444.66 849.80,484.89 850.56,444.66 851.32,444.66 852.09,484.89 852.85,444.66 853.61,484.89 854.37,444.66 855.13,444.66 855.89,565.34 856.65,444.66 857.41,484.89 858.17,444.66 858.93,484.89 859.69,444.66 860.45,444.66 861.21,484.89 861.97,444.66 862.73,484.89 863.49,444.66 864.25,444.66 865.01,525.11 865.78,444.66 866.54,484.89 867.30,444.66 868.06,484.89 868.82,444.66 869.58,444.66 870.34,484.89 871.10,444.66 871.86,484.89 872.62,444.66 873.38,444.66 874.14,565.34 874.90,444.66 875.66,484.89 876.42,444.66 877.18,484.89 877.94,444.66 878.70,444.66 879.47,484.89 880.23,444.66 880.99,484.89 881.75,444.66 882.51,444.66 883.27,565.34 884.03,444.66 884.79,484.89 885.55,444.66 886.31,484.89 887.07,444.66 887.83,444.66 888.59,484.89 889.35,444.66 890.11,484.89 890.87,444.66 891.63,444.66 892.39,565.34 893.16,444.66 893.92,484.89 894.68,444.66 895.44,484.89 896.20,444.66 896.96,444.66 897.72,484.89 898.48,444.66 899.24,484.89 900.00,444.66" fill="none" stroke="#1f77b4" stroke-width="2.083" stroke-linejoin="round" stroke-linecap="square"/></g><path d="M125.00 485.5L127.29 485.5L126.97 565.90L126.38 566.20L125.59 566.20L125.00 565.90ZM133.49 485.5L136.30 485.5L135.93 525.90L135.27 526.20L134.39 526.20L133.72 525.90ZM142.47 485.5L145.56 485.5L145.07 565.90L144.44 566.20L143.59 566.20L142.96 565.90ZM151.59 485.5L154.68 485.5L154.34 565.90L153.65 566.20L152.73 566.20L152.04 565.90ZM160.73 485.5L163.79 485.5L163.60 565.90L162.83 566.20L161.80 566.20L161.03 565.90ZM170.00 485.5L172.87 485.5L172.87 525.62L172.01 526.28L170.86 526.28L170.00 525.62ZM179.00 485.5L182.00 485.5L182.00 565.62L181.10 566.28L179.90 566.28L179.00 565.62ZM188.13 485.5L191.17 485.5L190.98 565.62L190.15 566.28L189.05 566.28L188.22 565.62ZM197.24 485.5L200.31 485.5L199.97 565.90L199.22 566.20L198.22 566.20L197.47 565.90ZM206.49 485.5L209.33 485.5L208.93 525.90L208.28 526.20L207.41 526.20L206.76 525.90ZM215.48 485.5L218.57 485.5L218.09 565.90L217.46 566.20L216.62 566.20L215.99 565.90ZM224.61 485.5L227.69 485.5L227.36 565.90L226.66 566.20L225.73 566.20L225.04 565.90ZM233.75 485.5L236.79 485.5L236.62 565.62L235.84 566.28L234.80 566.28L234.02 565.62ZM243.00 485.5L245.90 485.5L245.90 525.62L245.03 526.28L243.87 526.28L243.00 525.62ZM252.00 485.5L255.04 485.5L255.00 565.62L254.10 566.28L252.90 566.28L252.00 565.62ZM261.14 485.5L264.18 485.5L263.98 565.62L263.16 566.28L262.06 566.28L261.24 565.62ZM270.26 485.5L273.32 485.5L272.97 565.90L272.23 566.20L271.24 566.20L270.50 565.90ZM279.50 485.5L282.33 485.5L281.93 525.90L281.29 526.20L280.43 526.20L279.79 525.90ZM288.49 485.5L291.58 485.5L291.12 565.90L290.48 566.20L289.63 566.20L289.00 565.90ZM297.62 485.5L300.70 485.5L300.38 565.90L299.68 566.20L298.74 566.20L298.04 565.90ZM306.77 485.5L309.80 485.5L309.66 565.62L308.87 566.28L307.81 566.28L307.02 565.62ZM316.00 485.5L318.92 485.5L318.92 525.62L318.04 526.28L316.88 526.28L316.00 525.62ZM325.00 485.5L328.06 485.5L327.99 565.62L327.10 566.28L325.90 566.28L325.00 565.62ZM334.15 485.5L337.19 485.5L336.98 565.62L336.17 566.28L335.08 566.28L334.26 565.62ZM343.27 485.5L346.33 485.5L345.97 565.90L345.24 566.20L344.26 566.20L343.53 565.90ZM352.52 485.5L355.34 485.5L354.97 525.90L354.32 526.20L353.45 526.20L352.80 525.90ZM361.51 485.5L364.59 485.5L364.15 565.90L363.51 566.20L362.65 566.20L362.00 565.90ZM370.63 485.5L373.71 485.5L373.41 565.90L372.70 566.20L371.75 566.20L371.04 565.90ZM379.77 485.5L382.82 485.5L382.69 565.62L381.89 566.28L380.82 566.28L380.02 565.62ZM389.00 485.5L391.95 485.5L391.95 525.62L391.06 526.28L389.88 526.28L389.00 525.62ZM398.02 485.5L401.07 485.5L400.99 565.62L400.10 566.28L398.91 566.28L398.02 565.62ZM407.16 485.5L410.21 485.5L409.98 565.62L409.17 566.28L408.10 566.28L407.29 565.62ZM416.28 485.5L419.35 485.5L418.97 565.90L418.24 566.20L417.28 566.20L416.55 565.90ZM425.52 485.5L428.35 485.5L427.98 525.90L427.34 526.20L426.49 526.20L425.85 525.90ZM434.51 485.5L437.61 485.5L437.17 565.90L436.52 566.20L435.66 566.20L435.02 565.90ZM443.65 485.5L446.72 485.5L446.45 565.90L445.72 566.20L444.76 566.20L444.03 565.90ZM452.79 485.5L455.84 485.5L455.71 565.62L454.90 566.28L453.83 566.28L453.02 565.62ZM462.00 485.5L464.97 485.5L464.97 525.62L464.08 526.28L462.89 526.28L462.00 525.62ZM471.05 485.5L474.08 485.5L473.99 565.62L473.11 566.28L471.93 566.28L471.05 565.62ZM480.18 485.5L483.22 485.5L482.98 565.62L482.18 566.28L481.11 566.28L480.31 565.62ZM489.30 485.5L492.37 485.5L491.96 565.90L491.25 566.20L490.29 566.20L489.57 565.90ZM498.53 485.5L501.38 485.5L500.99 525.90L500.36 526.20L499.51 526.20L498.87 525.90ZM507.52 485.5L510.62 485.5L510.21 565.90L509.56 566.20L508.70 566.20L508.05 565.90ZM516.67 485.5L519.73 485.5L519.47 565.90L518.74 566.20L517.76 566.20L517.03 565.90ZM525.81 485.5L528.84 485.5L528.73 565.62L527.92 566.28L526.83 566.28L526.02 565.62ZM535.00 485.5L538.00 485.5L538.00 525.62L537.10 526.28L535.90 526.28L535.00 525.62ZM544.07 485.5L547.10 485.5L546.99 565.62L546.12 566.28L544.95 566.28L544.08 565.62ZM553.20 485.5L556.23 485.5L555.98 565.62L555.19 566.28L554.13 566.28L553.34 565.62ZM562.30 485.5L565.38 485.5L564.96 565.90L564.26 566.20L563.32 566.20L562.62 565.90ZM571.55 485.5L574.39 485.5L574.00 525.90L573.37 526.20L572.53 526.20L571.90 525.90ZM580.54 485.5L583.62 485.5L583.22 565.90L582.57 566.20L581.70 566.20L581.05 565.90ZM589.68 485.5L592.74 485.5L592.50 565.90L591.76 566.20L590.77 566.20L590.03 565.90ZM598.82 485.5L601.86 485.5L601.76 565.62L600.94 566.28L599.84 566.28L599.02 565.62ZM608.00 485.5L611.00 485.5L611.00 525.62L610.10 526.28L608.90 526.28L608.00 525.62ZM617.08 485.5L620.11 485.5L619.99 565.62L619.12 566.28L617.97 566.28L617.10 565.62ZM626.20 485.5L629.25 485.5L628.98 565.62L628.19 566.28L627.15 566.28L626.37 565.62ZM635.31 485.5L638.39 485.5L637.96 565.90L637.27 566.20L636.34 566.20L635.64 565.90ZM644.56 485.5L647.39 485.5L647.02 525.90L646.39 526.20L645.56 526.20L644.93 525.90ZM653.55 485.5L656.64 485.5L656.26 565.90L655.59 566.20L654.71 566.20L654.04 565.90ZM662.69 485.5L665.75 485.5L665.52 565.90L664.77 566.20L663.78 566.20L663.03 565.90ZM671.83 485.5L674.87 485.5L674.78 565.62L673.95 566.28L672.85 566.28L672.02 565.62ZM681.00 485.5L684.00 485.5L684.00 525.62L683.10 526.28L681.90 526.28L681.00 525.62ZM690.10 485.5L693.12 485.5L692.99 565.62L692.13 566.28L690.98 566.28L690.12 565.62ZM699.21 485.5L702.27 485.5L701.97 565.90L701.20 566.20L700.17 566.20L699.40 565.90ZM708.32 485.5L711.40 485.5L710.96 565.90L710.27 566.20L709.35 566.20L708.66 565.90ZM717.56 485.5L720.42 485.5L720.03 525.90L719.41 526.20L718.57 526.20L717.95 525.90ZM726.57 485.5L729.65 485.5L729.29 565.90L728.61 566.20L727.72 566.20L727.04 565.90ZM735.71 485.5L738.77 485.5L738.55 565.90L737.79 566.20L736.78 566.20L736.03 565.90ZM744.85 485.5L747.87 485.5L747.83 565.62L746.98 566.28L745.86 566.28L745.02 565.62ZM754.00 485.5L757.00 485.5L757.00 525.62L756.10 526.28L754.90 526.28L754.00 525.62ZM763.12 485.5L766.13 485.5L765.99 565.62L765.14 566.28L764.00 566.28L763.15 565.62ZM772.22 485.5L775.28 485.5L774.97 565.90L774.21 566.20L773.19 566.20L772.43 565.90ZM781.34 485.5L784.42 485.5L783.96 565.90L783.28 566.20L782.36 566.20L781.68 565.90ZM790.59 485.5L793.41 485.5L793.04 525.90L792.42 526.20L791.58 526.20L790.96 525.90ZM799.58 485.5L802.66 485.5L802.32 565.90L801.64 566.20L800.72 566.20L800.04 565.90ZM808.72 485.5L811.78 485.5L811.57 565.90L810.81 566.20L809.79 566.20L809.03 565.90ZM817.87 485.5L820.88 485.5L820.85 565.62L820.00 566.28L818.86 566.28L818.01 565.62ZM827.00 485.5L830.00 485.5L830.00 525.62L829.10 526.28L827.90 526.28L827.00 525.62ZM836.13 485.5L839.15 485.5L838.98 565.62L838.14 566.28L837.02 566.28L836.17 565.62ZM845.23 485.5L848.29 485.5L847.97 565.90L847.22 566.20L846.21 566.20L845.45 565.90ZM854.35 485.5L857.43 485.5L856.96 565.90L856.28 566.20L855.39 566.20L854.71 565.90ZM863.58 485.5L866.44 485.5L866.05 525.90L865.43 526.20L864.59 526.20L863.97 525.90ZM872.60 485.5L875.68 485.5L875.34 565.90L874.65 566.20L873.73 566.20L873.04 565.90ZM881.73 485.5L884.79 485.5L884.60 565.90L883.83 566.20L882.80 566.20L882.03 565.90ZM890.88 485.5L893.90 485.5L893.88 565.62L893.02 566.28L891.87 566.28L891.01 565.62Z" fill="#1f77b4"/></g>
<path d="M125.5 439.5V571.5M900.5 439.5V571.5M162.5 571.5v5M253.5 571.5v5M344.5 571.5v5M435.5 571.5v5M527.5 571.5v5M618.5 571.5v5M709.5 571.5v5M800.5 571.5v5M892.5 571.5v5" stroke="#000" stroke-width="1.111" fill="none"/>
<path d="M207.5 571.5v2.95M298.5 571.5v2.95M390.5 571.5v2.95M481.5 571.5v2.95M572.5 571.5v2.95M663.5 571.5v2.95M755.5 571.5v2.95M846.5 571.5v2.95" stroke="#000" stroke-width="0.85" fill="none"/>
<g fill="#000"><rect x="124.945" y="438.945" width="776.111" height="1.111"/><rect x="124.945" y="570.944" width="776.111" height="1.111"/><rect x="120.500" y="564.944" width="5" height="1.111"/><rect x="120.500" y="524.944" width="5" height="1.111"/><rect x="120.500" y="484.945" width="5" height="1.111"/><rect x="120.500" y="444.945" width="5" height="1.111"/></g>
<g font-family="'DejaVu Sans', 'Liberation Sans', sans-serif" font-size="13.889px" fill="#000">
<text x="162.00" y="591.50" text-anchor="middle" letter-spacing="0.08">2019</text>
<text x="253.00" y="591.50" text-anchor="middle" letter-spacing="0.08">2029</text>
<text x="344.00" y="591.50" text-anchor="middle" letter-spacing="0.08">2039</text>
<text x="435.00" y="591.50" text-anchor="middle" letter-spacing="0.08">2049</text>
<text x="527.00" y="591.50" text-anchor="middle" letter-spacing="0.08">2059</text>
<text x="618.00" y="591.50" text-anchor="middle" letter-spacing="0.08">2069</text>
<text x="709.00" y="591.50" text-anchor="middle" letter-spacing="0.08">2079</text>
<text x="800.00" y="591.50" text-anchor="middle" letter-spacing="0.08">2089</text>
<text x="892.00" y="591.50" text-anchor="middle" letter-spacing="0.08">2099</text>
<text x="115.30" y="570.80" text-anchor="end" letter-spacing="0">28</text>
<text x="115.30" y="530.80" text-anchor="end" letter-spacing="0">29</text>
<text x="115.30" y="489.80" text-anchor="end" letter-spacing="0">30</text>
<text x="115.30" y="449.80" text-anchor="end" letter-spacing="0">31</text>
<text transform="translate(87.5,506.20) rotate(-90)" text-anchor="middle" letter-spacing="0">fieldmax</text>
</g>
<rect x="125.0" y="663" width="775.0" height="2" fill="#1f77b4"/>
<path d="M125.5 598.5V731.5M900.5 598.5V731.5M162.5 731.5v5M253.5 731.5v5M344.5 731.5v5M435.5 731.5v5M527.5 731.5v5M618.5 731.5v5M709.5 731.5v5M800.5 731.5v5M892.5 731.5v5" stroke="#000" stroke-width="1.111" fill="none"/>
<path d="M207.5 731.5v2.95M298.5 731.5v2.95M390.5 731.5v2.95M481.5 731.5v2.95M572.5 731.5v2.95M663.5 731.5v2.95M755.5 731.5v2.95M846.5 731.5v2.95" stroke="#000" stroke-width="0.85" fill="none"/>
<g fill="#000"><rect x="124.945" y="597.944" width="776.111" height="1.111"/><rect x="124.945" y="730.944" width="776.111" height="1.111"/><rect x="120.500" y="724.944" width="5" height="1.111"/><rect x="120.500" y="663.944" width="5" height="1.111"/><rect x="120.500" y="603.944" width="5" height="1.111"/></g>
<g font-family="'DejaVu Sans', 'Liberation Sans', sans-serif" font-size="13.889px" fill="#000">
<text x="162.00" y="750.50" text-anchor="middle" letter-spacing="0.08">2019</text>
<text x="253.00" y="750.50" text-anchor="middle" letter-spacing="0.08">2029</text>
<text x="344.00" y="750.50" text-anchor="middle" letter-spacing="0.08">2039</text>
<text x="435.00" y="750.50" text-anchor="middle" letter-spacing="0.08">2049</text>
<text x="527.00" y="750.50" text-anchor="middle" letter-spacing="0.08">2059</text>
<text x="618.00" y="750.50" text-anchor="middle" letter-spacing="0.08">2069</text>
<text x="709.00" y="750.50" text-anchor="middle" letter-spacing="0.08">2079</text>
<text x="800.00" y="750.50" text-anchor="middle" letter-spacing="0.08">2089</text>
<text x="892.00" y="750.50" text-anchor="middle" letter-spacing="0.08">2099</text>
<text x="114.40" y="729.80" text-anchor="end" letter-spacing="-0.3">−0.05</text>
<text x="114.40" y="669.80" text-anchor="end" letter-spacing="-0.3">0.00</text>
<text x="114.40" y="608.80" text-anchor="end" letter-spacing="-0.3">0.05</text>
<text transform="translate(63.7,666.71) rotate(-90)" text-anchor="middle" letter-spacing="0">nummasked</text>
</g>
<rect x="125.0" y="823" width="775.0" height="2" fill="#1f77b4"/>
<path d="M125.5 757.5V890.5M900.5 757.5V890.5M162.5 890.5v5M253.5 890.5v5M344.5 890.5v5M435.5 890.5v5M527.5 890.5v5M618.5 890.5v5M709.5 890.5v5M800.5 890.5v5M892.5 890.5v5" stroke="#000" stroke-width="1.111" fill="none"/>
<path d="M207.5 890.5v2.95M298.5 890.5v2.95M390.5 890.5v2.95M481.5 890.5v2.95M572.5 890.5v2.95M663.5 890.5v2.95M755.5 890.5v2.95M846.5 890.5v2.95" stroke="#000" stroke-width="0.85" fill="none"/>
<g fill="#000"><rect x="124.945" y="756.944" width="776.111" height="1.111"/><rect x="124.945" y="889.944" width="776.111" height="1.111"/><rect x="120.500" y="883.944" width="5" height="1.111"/><rect x="120.500" y="823.944" width="5" height="1.111"/><rect x="120.500" y="762.944" width="5" height="1.111"/></g>
<g font-family="'DejaVu Sans', 'Liberation Sans', sans-serif" font-size="13.889px" fill="#000">
<text x="162.00" y="910.50" text-anchor="middle" letter-spacing="0.08">2019</text>
<text x="253.00" y="910.50" text-anchor="middle" letter-spacing="0.08">2029</text>
<text x="344.00" y="910.50" text-anchor="middle" letter-spacing="0.08">2039</text>
<text x="435.00" y="910.50" text-anchor="middle" letter-spacing="0.08">2049</text>
<text x="527.00" y="910.50" text-anchor="middle" letter-spacing="0.08">2059</text>
<text x="618.00" y="910.50" text-anchor="middle" letter-spacing="0.08">2069</text>
<text x="709.00" y="910.50" text-anchor="middle" letter-spacing="0.08">2079</text>
<text x="800.00" y="910.50" text-anchor="middle" letter-spacing="0.08">2089</text>
<text x="892.00" y="910.50" text-anchor="middle" letter-spacing="0.08">2099</text>
<text x="114.40" y="888.80" text-anchor="end" letter-spacing="-0.3">−0.05</text>
<text x="114.40" y="828.80" text-anchor="end" letter-spacing="-0.3">0.00</text>
<text x="114.40" y="768.80" text-anchor="end" letter-spacing="-0.3">0.05</text>
<text transform="translate(63.7,826.02) rotate(-90)" text-anchor="middle" letter-spacing="-0.25">numnan</text>
<text x="512.30" y="929.5" text-anchor="middle" letter-spacing="-0.12">validtime</text>
</g>
<text x="512.60" y="112" text-anchor="middle" font-family="'DejaVu Sans', 'Liberation Sans', sans-serif" font-size="16.667px" letter-spacing="0.034" fill="#000" stroke="#000" stroke-width="0.14">TNgt20, lev=0, 20150101T0000 to 20991201T0000</text>
</svg>
</body></html>
